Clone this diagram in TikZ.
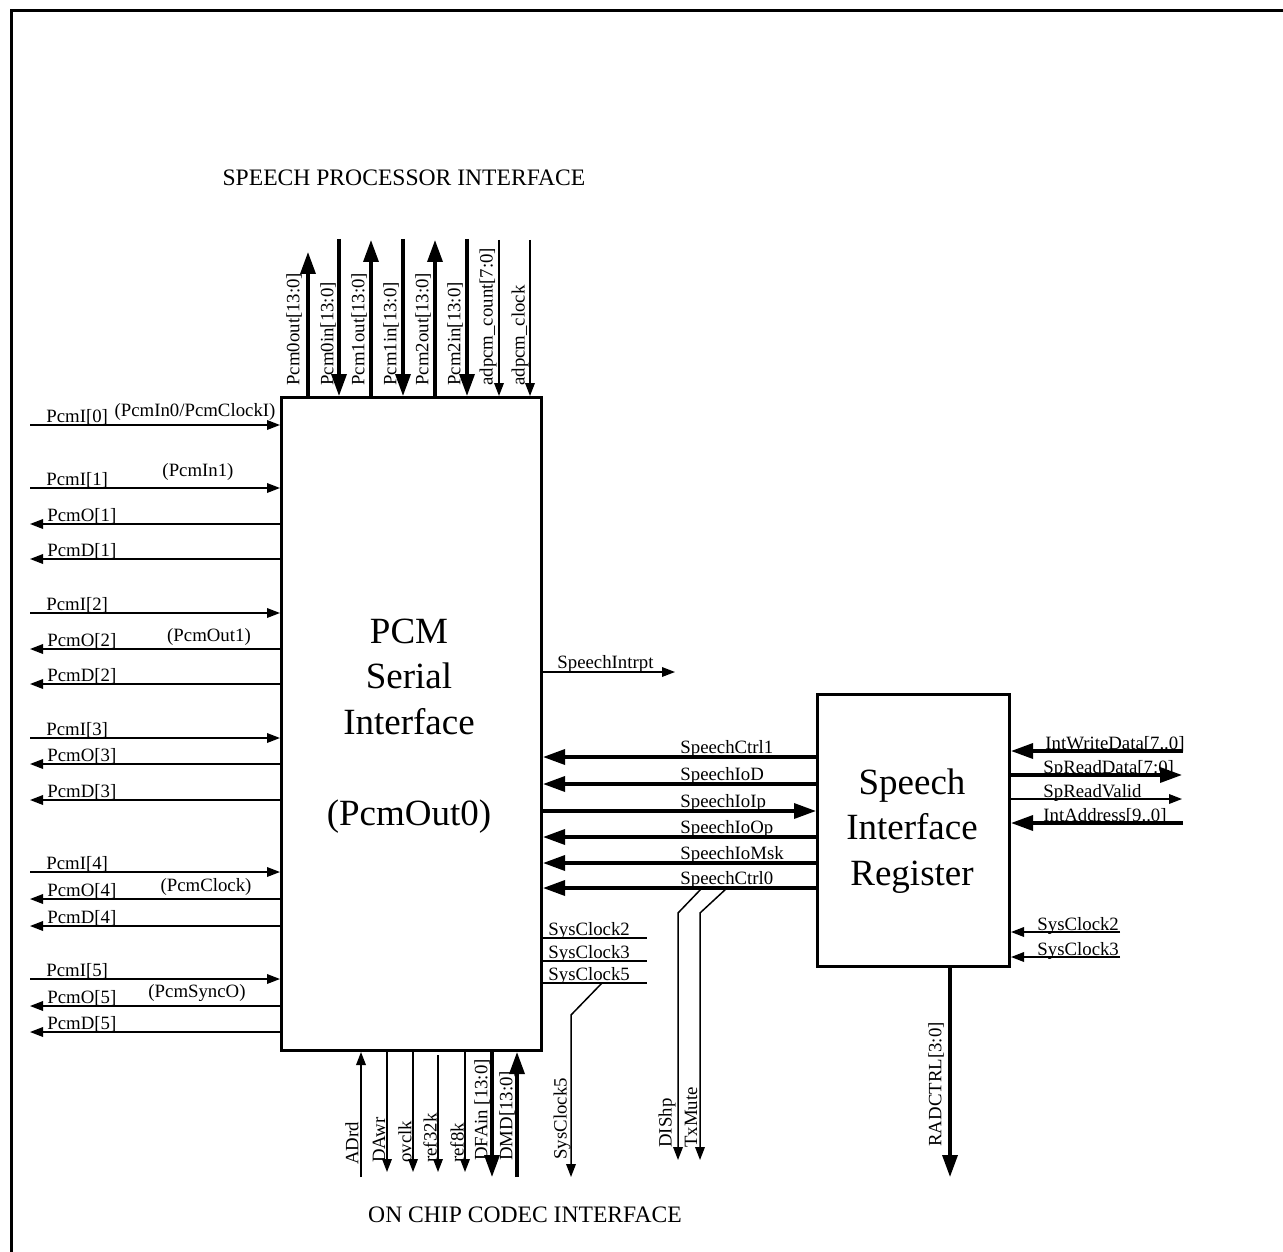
\documentclass[tikz,border=0pt]{standalone}
\usepackage{fontspec}
\setmainfont{Liberation Serif}
\usetikzlibrary{arrows.meta}
\tikzset{
  thinsig/.style={line width=0.75pt},
  thicksig/.style={line width=1.7pt},
  tarr/.style={-{Triangle[length=6.5pt,width=4.8pt]}},
  tarrb/.style={{Triangle[length=6.5pt,width=4.8pt]}-},
  Tarr/.style={-{Triangle[length=11pt,width=7.5pt]}},
  Tarrb/.style={{Triangle[length=11pt,width=7.5pt]}-},
  blockbox/.style={draw,line width=1.5pt,inner sep=0pt,anchor=north west},
  lbl/.style={inner sep=0pt,font=\fontsize{9.4}{10}\selectfont},
  rlbl/.style={lbl,rotate=90,anchor=west},
  bigtxt/.style={inner sep=0pt,align=center,font=\fontsize{18.5}{22.8}\selectfont},
  title/.style={inner sep=0pt,font=\fontsize{11.8}{14}\selectfont}
}
\begin{document}
\begin{tikzpicture}[x=0.5pt,y=-0.5pt]
\clip (0,0) rectangle (1283,1251);
\useasboundingbox (0,0) rectangle (1283,1251);
% frame
\draw[line width=1.5pt] (11,1300) -- (11,11) -- (1300,11);
% blocks
\node[blockbox,minimum width=130pt,minimum height=326.5pt] (pcm) at (280,396) {};
\node[blockbox,minimum width=96pt,minimum height=136pt] (sir) at (816,693) {};
\node[bigtxt] (pcmtext) at (409,726) {PCM\\Serial\\Interface\\[22.8pt](PcmOut0)};
\node[bigtxt] (sirtext) at (912,831) {Speech\\Interface\\Register};
% titles
\node[title] (t1) at (404,178) {SPEECH PROCESSOR INTERFACE};
\node[title] (t2) at (525,1215) {ON CHIP CODEC INTERFACE};
% left inputs
\foreach \k/\y in {0/425,1/488,2/613,3/738,4/872,5/979}{
  \draw[thinsig,tarr] (30,\y) -- (pcm.west |- 0,\y);
  \node[lbl,anchor=base west] (pi\k) at (46,\y-3) {PcmI[\k]};
}
% left outputs
\foreach \k/\yo/\yd in {1/524/559,2/649/684,3/764/800,4/899/926,5/1006/1032}{
  \draw[thinsig,tarrb] (30,\yo) -- (pcm.west |- 0,\yo);
  \node[lbl,anchor=base west] (po\k) at (47,\yo-3) {PcmO[\k]};
  \draw[thinsig,tarrb] (30,\yd) -- (pcm.west |- 0,\yd);
  \node[lbl,anchor=base west] (pd\k) at (47,\yd-3) {PcmD[\k]};
}
\node[lbl] (c0) at (195,412) {(PcmIn0/PcmClockI)};
\node[lbl] (c1) at (198,472) {(PcmIn1)};
\node[lbl] (c2) at (209,637) {(PcmOut1)};
\node[lbl] (c3) at (206,887) {(PcmClock)};
\node[lbl] (c4) at (197,993) {(PcmSyncO)};
% top signals
\draw[thicksig,Tarr] (pcm.north -| 308,0) -- (308,252);
\draw[thicksig,Tarr] (339,239) -- (pcm.north -| 339,0);
\draw[thicksig,Tarr] (pcm.north -| 371,0) -- (371,240);
\draw[thicksig,Tarr] (403,239) -- (pcm.north -| 403,0);
\draw[thicksig,Tarr] (pcm.north -| 435,0) -- (435,240);
\draw[thicksig,Tarr] (467,239) -- (pcm.north -| 467,0);
\draw[thinsig,tarr] (499,240) -- (pcm.north -| 499,0);
\draw[thinsig,tarr] (530,240) -- (pcm.north -| 530,0);
\node[rlbl] (ta) at (294,386) {Pcm0out[13:0]};
\node[rlbl] (tb) at (328,386) {Pcm0in[13:0]};
\node[rlbl] (tc) at (359,386) {Pcm1out[13:0]};
\node[rlbl] (td) at (391,386) {Pcm1in[13:0]};
\node[rlbl] (te) at (423,386) {Pcm2out[13:0]};
\node[rlbl] (tf) at (455,386) {Pcm2in[13:0]};
\node[rlbl] (tg) at (488,386) {adpcm\_count[7:0]};
\node[rlbl] (th) at (520,386) {adpcm\_clock};
% bottom signals
\draw[thinsig,tarr] (361,1177) -- (pcm.south -| 361,0);
\draw[thinsig,tarr] (pcm.south -| 387,0) -- (387,1172);
\draw[thinsig,tarr] (pcm.south -| 413,0) -- (413,1172);
\draw[thinsig,tarr] (438,1055) -- (438,1172);
\draw[thinsig,tarr] (pcm.south -| 465,0) -- (465,1172);
\draw[thicksig,Tarr] (pcm.south -| 492,0) -- (492,1177);
\draw[thicksig,Tarr] (517,1177) -- (pcm.south -| 517,0);
\node[rlbl] (ba) at (352,1165) {ADrd};
\node[rlbl] (bb) at (379,1163) {DAwr};
\node[rlbl] (bc) at (405,1163) {ovclk};
\node[rlbl] (bd) at (430,1163) {ref32k};
\node[rlbl] (be) at (457,1163) {ref8k};
\node[rlbl] (bf) at (482,1161) {DFAin [13:0]};
\node[rlbl] (bg) at (507,1161) {DMD[13:0]};
% pcm right side
\draw[thinsig,tarr] (pcm.east |- 0,672) -- (675,672);
\node[lbl,anchor=base west] (si) at (557,668) {SpeechIntrpt};
\foreach \n/\y in {2/938,3/961,5/983}{
  \draw[thinsig] (pcm.east |- 0,\y) -- (647,\y);
  \node[lbl,anchor=base west] (sc\n) at (548,\y-3) {SysClock\n};
}
\coordinate (sc5bend) at (571,1015);
\coordinate (sc5end) at (571,1177);
\draw[thinsig,tarr] (602,983) -- (sc5bend) -- (sc5end);
\node[rlbl] (sc5l) at (562,1160) {SysClock5};
% speech bus
\foreach \nm/\y in {SpeechCtrl1/757,SpeechIoD/784,SpeechIoOp/837,SpeechIoMsk/863,SpeechCtrl0/888}{
  \draw[thicksig,Tarrb] (pcm.east |- 0,\y) -- (sir.west |- 0,\y);
  \node[lbl,anchor=base west] (\nm) at (680,\y-4) {\nm};
}
\draw[thicksig,Tarr] (pcm.east |- 0,811) -- (sir.west |- 0,811);
\node[lbl,anchor=base west] (ioip) at (680,807) {SpeechIoIp};
% DIShp / TxMute
\draw[thinsig,tarr] (702,888) -- (678,913) -- (678,1160);
\draw[thinsig,tarr] (727,888) -- (700,913) -- (700,1160);
\node[rlbl] (dish) at (667,1148) {DIShp};
\node[rlbl] (txm) at (691,1148) {TxMute};
% speech register right
\draw[thicksig,Tarr] (1183,751) -- (sir.east |- 0,751);
\node[lbl,anchor=base west] (iwd) at (1045,749) {IntWriteData[7..0]};
\draw[thicksig,Tarr] (sir.east |- 0,775) -- (1182,775);
\node[lbl,anchor=base west] (srd) at (1043,773) {SpReadData[7:0]};
\draw[thinsig,tarr] (sir.east |- 0,799) -- (1182,799);
\node[lbl,anchor=base west] (srv) at (1043,797) {SpReadValid};
\draw[thicksig,Tarr] (1183,823) -- (sir.east |- 0,823);
\node[lbl,anchor=base west] (iad) at (1043,821) {IntAddress[9..0]};
\draw[thinsig,tarr] (1120,932) -- (sir.east |- 0,932);
\node[lbl,anchor=base west] (rs2) at (1037,930) {SysClock2};
\draw[thinsig,tarr] (1120,957) -- (sir.east |- 0,957);
\node[lbl,anchor=base west] (rs3) at (1037,955) {SysClock3};
% RADCTRL
\draw[thicksig,Tarr] (sir.south -| 950,0) -- (950,1177);
\node[rlbl] (radl) at (936,1147) {RADCTRL[3:0]};
\end{tikzpicture}
\end{document}
